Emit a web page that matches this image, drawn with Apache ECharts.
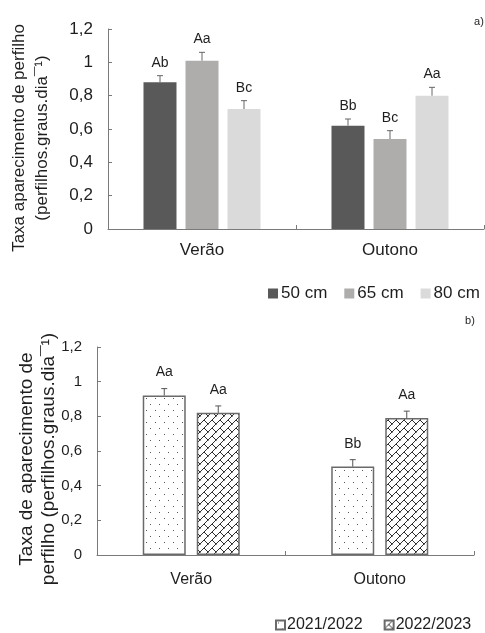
<!DOCTYPE html>
<html>
<head>
<meta charset="utf-8">
<script src="https://cdn.jsdelivr.net/npm/echarts@6/dist/echarts.min.js"></script>
<style>
html,body{margin:0;padding:0;background:#fff;}
#chart{width:485px;height:633px;}
</style>
</head>
<body>
<div id="chart"></div>
<script>
// ---- data ----
const categories = ['Verão', 'Outono'];
const heightNames = ['50 cm', '65 cm', '80 cm'];
const h50 = [0.88, 0.62];
const h65 = [1.01, 0.54];
const h80 = [0.72, 0.80];
const err50 = [0.04, 0.04];
const err65 = [0.05, 0.05];
const err80 = [0.05, 0.05];
const let50 = ['Ab', 'Bb'];
const let65 = ['Aa', 'Bc'];
const let80 = ['Bc', 'Aa'];

const yearNames = ['2021/2022', '2022/2023'];
const y2122 = [0.92, 0.51];
const y2223 = [0.82, 0.79];
const err2122 = [0.04, 0.04];
const err2223 = [0.04, 0.04];
const let2122 = ['Aa', 'Bb'];
const let2223 = ['Aa', 'Aa'];

const yMin = 0, yMax = 1.2, yStep = 0.2;

// ---- patterns ----
function dotsTile() {
  const c = document.createElement('canvas');
  c.width = 9; c.height = 12;
  const g = c.getContext('2d');
  g.fillStyle = '#fff'; g.fillRect(0, 0, 9, 12);
  g.fillStyle = '#555';
  g.fillRect(2, 2, 1, 1);
  g.fillRect(6, 8, 1, 1);
  return c;
}
function brickTile() {
  const S = 8;
  const c = document.createElement('canvas');
  c.width = S; c.height = S;
  const g = c.getContext('2d');
  g.fillStyle = '#fff'; g.fillRect(0, 0, S, S);
  g.strokeStyle = '#2e2e2e'; g.lineWidth = 1;
  g.beginPath();
  g.moveTo(-1, S + 1); g.lineTo(S + 1, -1);
  g.moveTo(-1, 1); g.lineTo(1, -1);
  g.moveTo(S - 1, S + 1); g.lineTo(S + 1, S - 1);
  g.moveTo(S / 2, S / 2); g.lineTo(S + 1, S + 1);
  g.moveTo(-1, -1); g.lineTo(0.5, 0.5);
  g.stroke();
  return c;
}

const FONT = "'Liberation Sans', Arial, sans-serif";
const TXT = '#1e1e1e';
const AX = '#7a7a7a';
const fmt = v => String(+v.toFixed(1)).replace('.', ',');

function errSeries(name, xi, yi, vals, errs, lets, offset, color, fontSize, lblGap) {
  return {
    type: 'custom', name: name, xAxisIndex: xi, yAxisIndex: yi, z: 5,
    silent: true,
    data: vals.map((v, i) => [i, v, errs[i]]),
    renderItem: function (params, api) {
      const ci = api.value(0), v = api.value(1), e = api.value(2);
      const x = api.coord([ci, 0])[0] + offset;
      const yb = api.coord([ci, v])[1];
      const yt = api.coord([ci, v + e])[1];
      const lbl = lets[params.dataIndex];
      return {
        type: 'group',
        children: [
          { type: 'line', shape: { x1: x, y1: yb, x2: x, y2: yt }, style: { stroke: color, lineWidth: 1 } },
          { type: 'line', shape: { x1: x - 3, y1: yt, x2: x + 3, y2: yt }, style: { stroke: color, lineWidth: 1 } },
          { type: 'text', x: x, y: yt - lblGap, style: { text: lbl, fill: TXT, font: fontSize + 'px ' + FONT, align: 'center', verticalAlign: 'bottom' } }
        ]
      };
    }
  };
}

const chart = echarts.init(document.getElementById('chart'), null, { renderer: 'canvas' });
const dots = { image: dotsTile(), repeat: 'repeat' };
const brick = { image: brickTile(), repeat: 'repeat' };

function yAxisCfg(gi) {
  return {
    type: 'value', gridIndex: gi, min: yMin, max: yMax, interval: yStep,
    splitLine: { show: false },
    axisLine: { show: true, lineStyle: { color: AX } },
    axisTick: { show: true, inside: true, length: 4, lineStyle: { color: AX } },
    axisLabel: { formatter: fmt, color: TXT, fontFamily: FONT, fontSize: gi === 0 ? 17 : 15, margin: 15 }
  };
}
function xAxisCfg(gi) {
  return {
    type: 'category', gridIndex: gi, data: categories,
    axisLine: { lineStyle: { color: AX } },
    axisTick: { show: true, inside: true, length: 4, interval: 0, lineStyle: { color: AX } },
    axisLabel: { color: TXT, fontFamily: FONT, fontSize: gi === 0 ? 17 : 16, margin: gi === 0 ? 13 : 17 }
  };
}

const option = {
  animation: false,
  backgroundColor: '#fff',
  textStyle: { fontFamily: FONT },
  grid: [
    { left: 108, right: 1, top: 29, height: 200 },
    { left: 97, right: 11, top: 347, height: 208 }
  ],
  xAxis: [xAxisCfg(0), xAxisCfg(1)],
  yAxis: [yAxisCfg(0), yAxisCfg(1)],
  legend: [
    {
      data: heightNames, left: 268, top: 285, width: 260, padding: 0, orient: 'horizontal',
      itemWidth: 10, itemHeight: 10, itemGap: 17, icon: 'rect',
      textStyle: { fontSize: 17, color: TXT, fontFamily: FONT, padding: [0, 0, 0, -2] }
    },
    {
      data: yearNames, left: 275, top: 617, width: 260, padding: 0, orient: 'horizontal',
      itemWidth: 9, itemHeight: 9, itemGap: 21, icon: 'rect',
      textStyle: { fontSize: 16, color: TXT, fontFamily: FONT, padding: [0, 0, 0, -3] }
    }
  ],
  graphic: [
    { type: 'text', x: 19, y: 138, rotation: Math.PI / 2, style: { text: 'Taxa aparecimento de perfilho', font: '17px ' + FONT, fill: TXT, align: 'center', verticalAlign: 'middle' } },
    { type: 'text', x: 42, y: 138, rotation: Math.PI / 2, style: { text: '(perfilhos.graus.dia\u00AF\u00B9)', font: '17px ' + FONT, fill: TXT, align: 'center', verticalAlign: 'middle' } },
    { type: 'text', x: 27, y: 459, rotation: Math.PI / 2, style: { text: 'Taxa de aparecimento de', font: '19px ' + FONT, fill: TXT, align: 'center', verticalAlign: 'middle' } },
    { type: 'text', x: 49, y: 459, rotation: Math.PI / 2, style: { text: 'perfilho (perfilhos.graus.dia\u00AF\u00B9)', font: '19px ' + FONT, fill: TXT, align: 'center', verticalAlign: 'middle' } },
    { type: 'text', x: 479, y: 22, style: { text: 'a)', font: '11px ' + FONT, fill: TXT, align: 'center', verticalAlign: 'middle' } },
    { type: 'text', x: 470, y: 321, style: { text: 'b)', font: '11px ' + FONT, fill: TXT, align: 'center', verticalAlign: 'middle' } }
  ],
  series: [
    { type: 'bar', name: heightNames[0], xAxisIndex: 0, yAxisIndex: 0, data: h50, barWidth: 33, barGap: '27.3%', itemStyle: { color: '#595959' } },
    { type: 'bar', name: heightNames[1], xAxisIndex: 0, yAxisIndex: 0, data: h65, barWidth: 33, barGap: '27.3%', itemStyle: { color: '#afacac' } },
    { type: 'bar', name: heightNames[2], xAxisIndex: 0, yAxisIndex: 0, data: h80, barWidth: 33, barGap: '27.3%', itemStyle: { color: '#dadada' } },
    { type: 'bar', name: yearNames[0], xAxisIndex: 1, yAxisIndex: 1, data: y2122, barWidth: 43, barGap: '25.6%', itemStyle: { color: dots, borderColor: '#6a6a6a', borderWidth: 1.5 } },
    { type: 'bar', name: yearNames[1], xAxisIndex: 1, yAxisIndex: 1, data: y2223, barWidth: 43, barGap: '25.6%', itemStyle: { color: brick, borderColor: '#6a6a6a', borderWidth: 1.5 } },
    errSeries('e50', 0, 0, h50, err50, let50, -42, '#666', 14, 6),
    errSeries('e65', 0, 0, h65, err65, let65, 0, '#666', 14, 6),
    errSeries('e80', 0, 0, h80, err80, let80, 42, '#666', 14, 6),
    errSeries('e2122', 1, 1, y2122, err2122, let2122, -27, '#555', 14, 9),
    errSeries('e2223', 1, 1, y2223, err2223, let2223, 27, '#555', 14, 9)
  ]
};
chart.setOption(option);
</script>
</body>
</html>
